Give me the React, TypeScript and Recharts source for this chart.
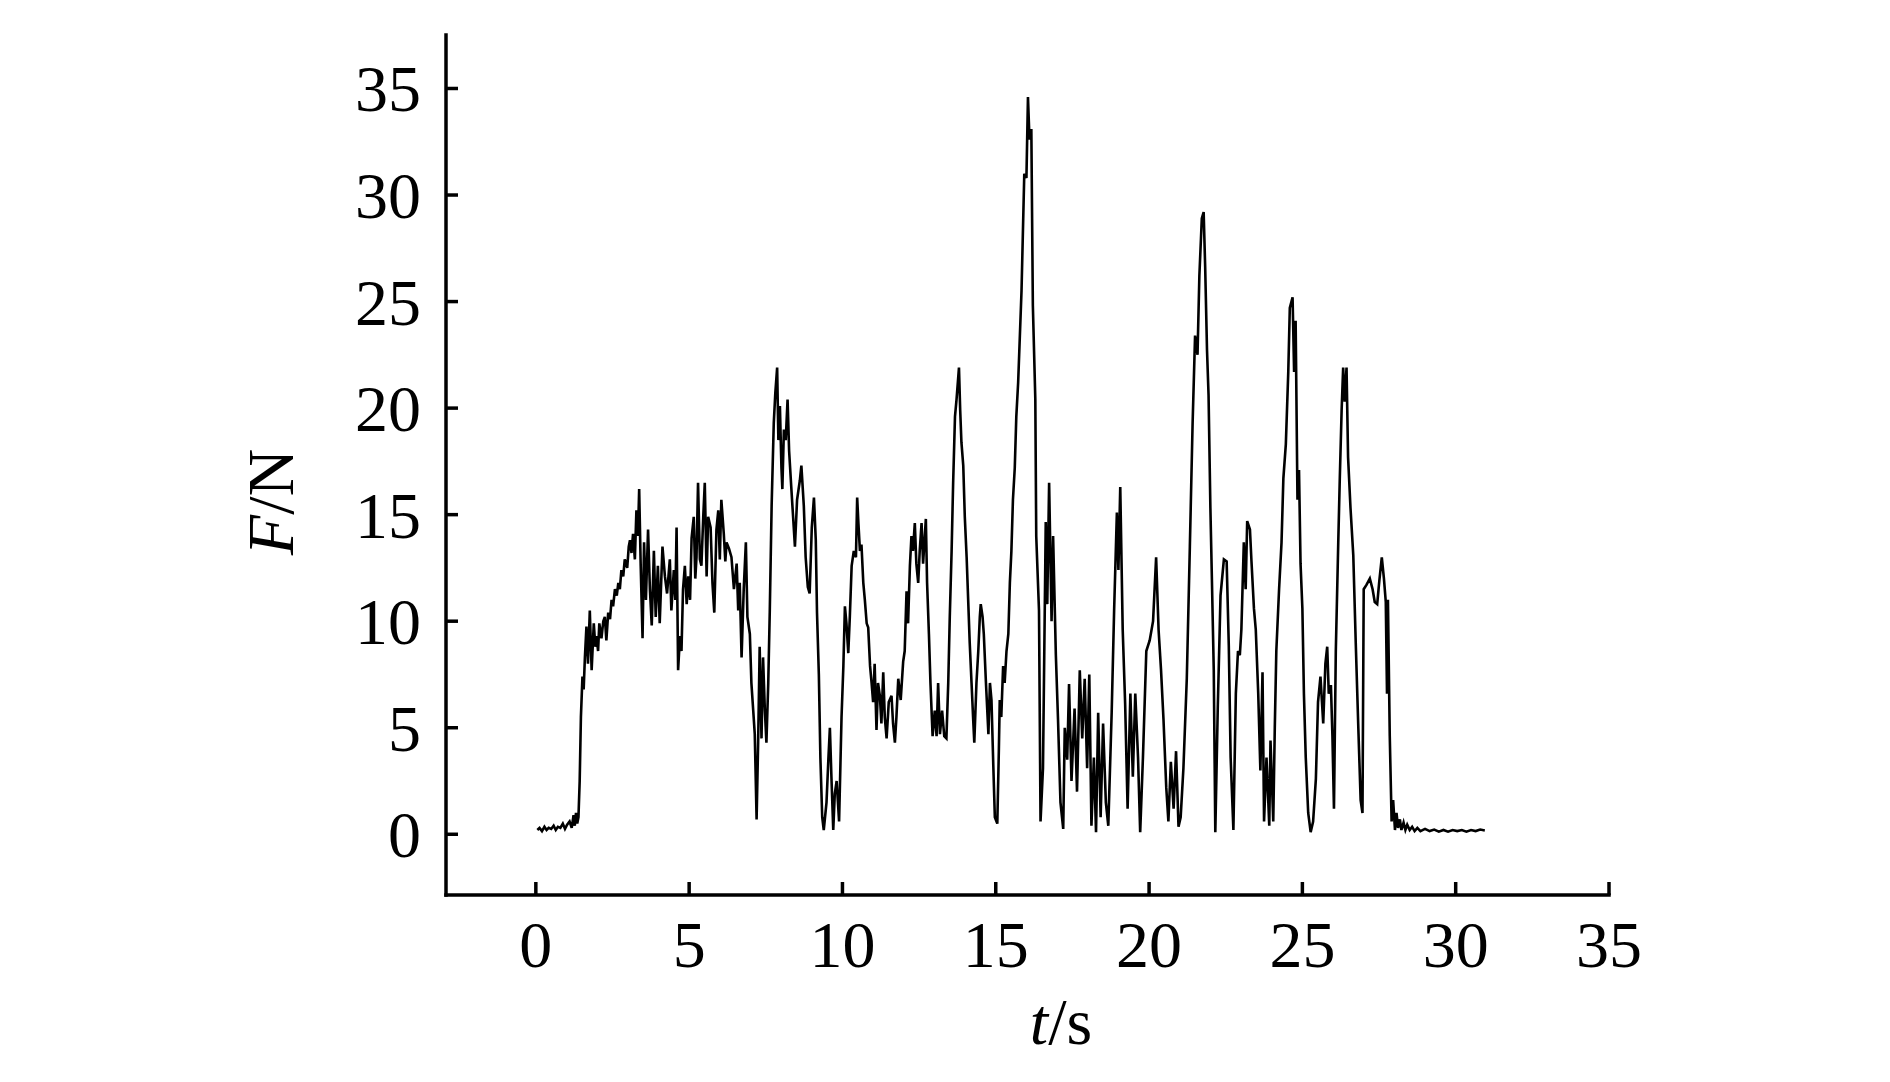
import { LineChart, Line, XAxis, YAxis } from "recharts"

// force trace: time (s) and force (N), same order
const timeS = [
  0.05, 0.12, 0.2, 0.28, 0.35, 0.42, 0.5, 0.58, 0.65, 0.72,
  0.8, 0.88, 0.95, 1.02, 1.1, 1.17, 1.23, 1.27, 1.31, 1.35,
  1.39, 1.43, 1.47, 1.52, 1.56, 1.6, 1.65, 1.7, 1.76, 1.82,
  1.89, 1.94, 1.98, 2.03, 2.07, 2.14, 2.2, 2.25, 2.3, 2.36,
  2.42, 2.47, 2.52, 2.58, 2.64, 2.69, 2.74, 2.79, 2.85, 2.9,
  2.98, 3.03, 3.07, 3.12, 3.17, 3.23, 3.28, 3.33, 3.37, 3.42,
  3.48, 3.53, 3.59, 3.66, 3.72, 3.78, 3.85, 3.91, 3.98, 4.04,
  4.13, 4.21, 4.28, 4.37, 4.42, 4.5, 4.55, 4.59, 4.64, 4.7,
  4.75, 4.8, 4.86, 4.92, 4.97, 5.03, 5.08, 5.15, 5.2, 5.24,
  5.29, 5.35, 5.4, 5.46, 5.51, 5.57, 5.62, 5.7, 5.76, 5.82,
  5.89, 5.95, 6.0, 6.05, 6.13, 6.18, 6.22, 6.3, 6.38, 6.46,
  6.55, 6.6, 6.65, 6.71, 6.78, 6.85, 6.9, 6.98, 7.03, 7.09,
  7.14, 7.2, 7.25, 7.3, 7.36, 7.41, 7.47, 7.52, 7.58, 7.63,
  7.69, 7.76, 7.81, 7.87, 7.91, 7.96, 8.01, 8.04, 8.09, 8.15,
  8.21, 8.26, 8.33, 8.39, 8.45, 8.52, 8.61, 8.66, 8.74, 8.8,
  8.87, 8.93, 9.0, 9.07, 9.13, 9.17, 9.23, 9.28, 9.34, 9.39,
  9.48, 9.54, 9.59, 9.64, 9.7, 9.75, 9.81, 9.89, 9.97, 10.03,
  10.08, 10.13, 10.19, 10.24, 10.3, 10.37, 10.44, 10.48, 10.52, 10.57,
  10.62, 10.68, 10.73, 10.79, 10.84, 10.9, 10.95, 11.0, 11.05, 11.11,
  11.16, 11.22, 11.27, 11.33, 11.38, 11.44, 11.51, 11.6, 11.65, 11.71,
  11.76, 11.82, 11.9, 11.98, 12.03, 12.09, 12.14, 12.2, 12.25, 12.3,
  12.36, 12.41, 12.47, 12.52, 12.58, 12.63, 12.72, 12.76, 12.82, 12.87,
  12.94, 13.01, 13.07, 13.12, 13.18, 13.25, 13.32, 13.39, 13.45, 13.5,
  13.56, 13.61, 13.67, 13.72, 13.8, 13.84, 13.88, 13.94, 13.99, 14.05,
  14.1, 14.15, 14.21, 14.26, 14.3, 14.37, 14.43, 14.48, 14.51, 14.57,
  14.61, 14.68, 14.76, 14.81, 14.86, 14.92, 14.97, 15.05, 15.1, 15.13,
  15.18, 15.24, 15.29, 15.35, 15.41, 15.46, 15.51, 15.56, 15.62, 15.67,
  15.73, 15.84, 15.93, 16.0, 16.05, 16.1, 16.16, 16.21, 16.29, 16.32,
  16.41, 16.46, 16.54, 16.63, 16.68, 16.74, 16.82, 16.87, 16.96, 17.03,
  17.11, 17.2, 17.25, 17.33, 17.39, 17.47, 17.57, 17.65, 17.74, 17.82,
  17.9, 17.98, 18.05, 18.12, 18.2, 18.27, 18.34, 18.42, 18.5, 18.59,
  18.67, 18.78, 18.86, 18.95, 19.0, 19.06, 19.14, 19.22, 19.3, 19.39,
  19.47, 19.55, 19.64, 19.71, 19.8, 19.91, 20.02, 20.13, 20.23, 20.31,
  20.39, 20.47, 20.56, 20.63, 20.71, 20.8, 20.88, 20.96, 21.03, 21.12,
  21.23, 21.33, 21.42, 21.5, 21.58, 21.64, 21.72, 21.78, 21.83, 21.89,
  21.94, 22.0, 22.05, 22.11, 22.16, 22.24, 22.33, 22.44, 22.53, 22.6,
  22.66, 22.75, 22.83, 22.9, 22.96, 23.01, 23.09, 23.15, 23.2, 23.29,
  23.34, 23.42, 23.48, 23.56, 23.63, 23.7, 23.75, 23.83, 23.92, 23.96,
  24.05, 24.1, 24.15, 24.24, 24.32, 24.38, 24.46, 24.54, 24.59, 24.68,
  24.73, 24.78, 24.84, 24.89, 24.94, 25.0, 25.05, 25.11, 25.19, 25.27,
  25.35, 25.44, 25.51, 25.59, 25.68, 25.75, 25.81, 25.86, 25.93, 25.98,
  26.03, 26.09, 26.17, 26.22, 26.28, 26.33, 26.38, 26.44, 26.49, 26.57,
  26.66, 26.74, 26.82, 26.9, 26.96, 27.0, 27.09, 27.2, 27.29, 27.36,
  27.44, 27.51, 27.59, 27.66, 27.72, 27.76, 27.79, 27.85, 27.91, 27.96,
  28.02, 28.07, 28.12, 28.18, 28.23, 28.3, 28.36, 28.42, 28.5, 28.58,
  28.66, 28.75, 28.85, 29.0, 29.15, 29.3, 29.45, 29.6, 29.75, 29.9,
  30.05, 30.2, 30.35, 30.5, 30.65, 30.8, 30.95,
]

const forceN = [
  0.2, 0.3, 0.15, 0.35, 0.2, 0.3, 0.25, 0.4, 0.2, 0.35,
  0.3, 0.5, 0.25, 0.45, 0.6, 0.3, 0.9, 0.4, 1.0, 0.5,
  0.8, 2.5, 5.5, 7.4, 6.8, 8.3, 9.75, 8.0, 10.5, 7.7,
  9.9, 8.8, 9.3, 8.6, 9.9, 9.2, 10.0, 10.2, 9.1, 10.4,
  10.1, 11.0, 10.7, 11.5, 11.2, 11.8, 11.5, 12.4, 12.1, 12.9,
  12.5, 13.5, 13.8, 13.2, 14.1, 12.9, 15.2, 14.0, 16.2, 12.6,
  9.2, 13.7, 11.0, 14.3, 11.5, 9.8, 13.3, 10.2, 12.6, 9.9,
  13.5, 12.1, 11.3, 12.9, 10.5, 12.4, 11.0, 14.4, 7.7, 9.3,
  8.6, 11.5, 12.6, 10.8, 12.1, 11.0, 13.9, 14.9, 12.0, 13.0,
  16.5, 12.9, 12.6, 14.9, 16.5, 12.1, 14.9, 14.4, 11.8, 10.4,
  14.3, 15.2, 12.9, 15.7, 14.1, 12.8, 13.7, 13.4, 13.0, 11.5,
  12.7, 10.5, 11.8, 8.3, 11.5, 13.7, 10.2, 9.4, 7.1, 5.8,
  4.7, 0.7, 4.3, 8.8, 4.5, 8.3, 5.8, 4.3, 7.1, 10.5,
  15.4, 19.3, 20.7, 21.9, 18.5, 20.1, 17.2, 16.2, 19.0, 18.5,
  20.4, 18.0, 16.3, 14.9, 13.5, 15.7, 16.6, 17.3, 15.4, 13.0,
  11.6, 11.3, 14.4, 15.8, 13.8, 10.4, 7.5, 3.6, 0.8, 0.2,
  1.5, 3.5, 5.0, 2.7, 0.2, 1.9, 2.5, 0.6, 5.5, 7.9,
  10.7, 9.9, 8.5, 10.2, 12.6, 13.3, 13.0, 15.8, 14.6, 13.3,
  13.6, 11.8, 11.0, 9.9, 9.7, 7.9, 7.1, 6.2, 8.0, 4.9,
  7.1, 6.5, 5.2, 7.6, 5.5, 4.5, 6.2, 6.5, 5.2, 4.3,
  5.5, 7.3, 6.3, 8.1, 8.6, 11.4, 9.9, 12.6, 14.0, 13.3,
  14.6, 12.7, 11.8, 13.3, 14.6, 12.7, 14.8, 11.8, 9.4, 7.1,
  4.6, 5.8, 4.6, 7.1, 4.7, 5.8, 4.6, 4.5, 7.1, 10.2,
  13.3, 16.5, 19.6, 20.4, 21.9, 19.9, 18.4, 17.3, 14.9, 13.0,
  11.0, 9.0, 7.1, 5.5, 4.3, 7.1, 8.6, 10.2, 10.8, 10.2,
  9.4, 7.1, 4.7, 7.1, 6.3, 3.2, 0.8, 0.5, 3.9, 6.3,
  5.5, 7.9, 7.1, 8.6, 9.4, 11.8, 13.3, 15.7, 17.2, 19.6,
  21.2, 25.5, 31.0, 30.8, 34.6, 32.6, 33.1, 24.8, 20.4, 14.0,
  10.5, 0.6, 3.1, 14.65, 10.8, 16.5, 10.0, 14.0, 8.4, 5.4,
  1.5, 0.25, 5.0, 3.5, 7.05, 2.5, 5.9, 2.0, 7.7, 4.5,
  7.3, 3.1, 7.5, 0.4, 3.6, 0.1, 5.7, 0.8, 5.2, 1.5,
  0.4, 5.7, 10.5, 15.1, 12.4, 16.3, 9.6, 6.1, 1.2, 6.6,
  2.7, 6.6, 3.6, 0.1, 3.6, 8.6, 9.1, 10.0, 13.0, 9.6,
  7.7, 5.4, 2.2, 0.6, 3.4, 1.2, 3.9, 0.35, 0.8, 3.1,
  7.3, 13.5, 19.3, 23.4, 22.5, 26.2, 28.9, 29.2, 26.6, 22.7,
  20.6, 15.3, 11.9, 7.7, 0.1, 5.9, 11.2, 12.9, 12.8, 8.85,
  3.6, 0.2, 6.6, 8.6, 8.4, 9.6, 13.7, 11.5, 14.7, 14.3,
  12.8, 10.6, 9.6, 6.6, 3.0, 7.6, 0.6, 3.6, 0.4, 4.4,
  0.6, 5.0, 8.6, 11.5, 13.7, 16.7, 18.3, 21.7, 24.7, 25.2,
  21.7, 24.1, 15.7, 17.1, 12.7, 10.6, 6.6, 3.6, 1.0, 0.1,
  0.6, 2.6, 6.2, 7.4, 5.2, 8.0, 8.8, 6.6, 7.0, 4.6,
  1.2, 8.6, 13.7, 16.7, 19.9, 21.9, 20.3, 21.9, 17.7, 15.3,
  13.1, 9.0, 5.2, 1.6, 1.0, 11.5, 11.7, 12.0, 11.5, 10.9,
  10.8, 11.9, 13.0, 12.0, 10.9, 6.6, 11.0, 4.6, 0.6, 1.6,
  0.2, 1.0, 0.3, 0.7, 0.2, 0.55, 0.2, 0.45, 0.2, 0.35,
  0.15, 0.3, 0.15, 0.25, 0.15, 0.22, 0.12, 0.2, 0.12, 0.2,
  0.15, 0.2, 0.12, 0.2, 0.15, 0.22, 0.18,
]

const xTicks = [0, 5, 10, 15, 20, 25, 30, 35]
const yTicks = [0, 5, 10, 15, 20, 25, 30, 35]

const data = timeS.map((t, i) => ({ t, f: forceN[i] }))

const FONT = "'Liberation Serif', 'Times New Roman', serif"

// ticks point inward, labels sit outside
const YTick = (props: any) => {
  const { x, y, payload } = props
  return (
    <g>
      <line x1={x} y1={y} x2={x + 12} y2={y} stroke="#000" strokeWidth={3.5} />
      <text x={x - 25} y={y + 23} textAnchor="end" fontFamily={FONT} fontSize={66} fill="#000">
        {payload.value}
      </text>
    </g>
  )
}

const XTick = (props: any) => {
  const { x, y, payload } = props
  return (
    <g>
      <line x1={x} y1={y} x2={x} y2={y - 13} stroke="#000" strokeWidth={3.5} />
      <text x={x} y={y + 72} textAnchor="middle" fontFamily={FONT} fontSize={66} fill="#000">
        {payload.value}
      </text>
    </g>
  )
}

const XTitle = () => (
  <text x={1061} y={1044} textAnchor="middle" fontFamily={FONT} fontSize={66} fill="#000">
    <tspan fontStyle="italic">t</tspan>/s
  </text>
)

const YTitle = () => (
  <text
    x={293}
    y={502}
    transform="rotate(-90, 293, 502)"
    textAnchor="middle"
    fontFamily={FONT}
    fontSize={66}
    fill="#000"
  >
    <tspan fontStyle="italic">F</tspan>/N
  </text>
)

export default function App() {
  return (
    <div style={{ position: "absolute", left: 0, top: 0, width: 1890, height: 1082, background: "#fff" }}>
      <LineChart
        width={1890}
        height={1082}
        data={data}
        margin={{ top: 35, right: 281, bottom: 107, left: 346 }}
      >
        <XAxis
          dataKey="t"
          type="number"
          domain={[-2.93, 35]}
          ticks={xTicks}
          allowDataOverflow
          height={80}
          tickLine={false}
          tickSize={0}
          tickMargin={0}
          axisLine={{ stroke: "#000", strokeWidth: 3.5, strokeLinecap: "square" }}
          tick={<XTick />}
          label={<XTitle />}
        />
        <YAxis
          type="number"
          domain={[-2.85, 37.51]}
          ticks={yTicks}
          allowDataOverflow
          width={100}
          tickLine={false}
          tickSize={0}
          tickMargin={0}
          axisLine={{ stroke: "#000", strokeWidth: 3.5, strokeLinecap: "square" }}
          tick={<YTick />}
          label={<YTitle />}
        />
        <Line
          type="linear"
          dataKey="f"
          stroke="#000"
          strokeWidth={2.6}
          strokeLinejoin="miter"
          dot={false}
          isAnimationActive={false}
        />
      </LineChart>
    </div>
  )
}
